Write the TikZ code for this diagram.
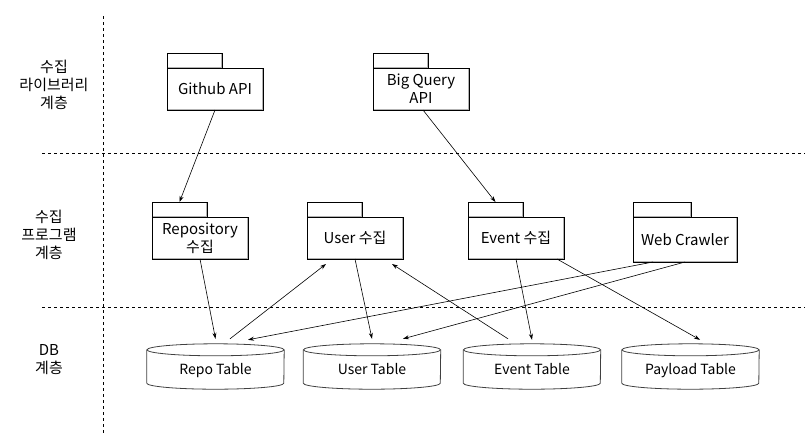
\documentclass[tikz,border=0pt]{standalone}
\usepackage{fontspec}
\setmainfont{Noto Sans CJK KR}
\usetikzlibrary{arrows.meta}
\usetikzlibrary{calc}

\tikzset{
  pkg/.style={draw, fill=white, line width=0.7pt, outer sep=0pt, inner sep=2pt,
    minimum width=96pt, minimum height=42pt, align=center,
    font=\fontsize{15}{18}\selectfont,
    path picture={\draw[black!30, line width=3pt]
      (path picture bounding box.south west) -- (path picture bounding box.south east)
      -- (path picture bounding box.north east);}},
  pkgtab/.style={pkg, minimum width=55pt, minimum height=15pt, inner sep=0pt, anchor=south west},
  tbl/.style={minimum width=137pt, minimum height=45pt, inner sep=0pt,
    font=\fontsize{14}{16}\selectfont},
  cyl/.style={draw=black!75, line width=0.8pt},
  layer/.style={align=center, font=\fontsize{15}{18}\selectfont},
  sep/.style={dashed, line width=0.7pt},
  link/.style={-{Stealth[length=6pt,width=4pt]}, line width=0.6pt},
}

\begin{document}
\begin{tikzpicture}[x=1pt,y=-1pt]
\useasboundingbox (0,0) rectangle (809,445);

% layer borders
\draw[sep] (103,16) -- (103,433);
\draw[sep] (42,153) -- (805,153);
\draw[sep] (42,307) -- (805,307);

\node[layer] (libs) at (54,85) {수집\\라이브러리\\계층};
\node[layer] (progs) at (49,235) {수집\\프로그램\\계층};
\node[layer] (dbs) at (49,360) {DB\\계층};

% packages
\foreach \name/\x/\y/\txt in {github/215/89/Github API, bigquery/421/89/{Big Query\\API},
    repository/200/238/{Repository\\수집}, user/355/238/User 수집, event/516/238/Event 수집} {
  \node[pkg] (\name) at (\x,\y) {\txt};
  \node[pkgtab] (\name-tab) at (\name.north west) {};
}
\node[pkg, minimum width=104pt, minimum height=45pt] (crawler) at (685,239.5) {Web Crawler};
\node[pkgtab, minimum width=58pt] (crawler-tab) at (crawler.north west) {};

% tables
\foreach \name/\x/\txt in {repo/215.5/Repo Table, usertbl/372/User Table,
    eventtbl/532/Event Table, payload/690.5/Payload Table} {
  \node[tbl] (\name) at (\x,366.5) {\raisebox{-7.5pt}[0pt][0pt]{\txt}};
  \draw[cyl] ($(\name.north)+(0,6)$) ellipse [x radius=68.5pt, y radius=6pt];
  \draw[cyl] ($(\name.north west)+(0,6)$) -- ($(\name.south west)+(0,-6)$)
    arc[start angle=180, end angle=360, x radius=68.5pt, y radius=6pt]
    -- ($(\name.north east)+(0,6)$);
}

\draw[link] (github.south) -- (repository-tab.north);
\draw[link] ([xshift=2pt]bigquery.south) -- (event-tab.north);
\draw[link] (repository.south) -- ([yshift=5pt]repo.north);
\draw[link] ([xshift=14.5pt,yshift=5pt]repo.north) -- ([xshift=-29pt,yshift=-5pt]user.south);
\draw[link] ([xshift=-32pt]crawler.south) -- ([xshift=32.5pt,yshift=4pt]repo.north);
\draw[link] (user.south) -- ([yshift=5pt]usertbl.north);
\draw[link] ([xshift=-24pt,yshift=5pt]eventtbl.north) -- ([xshift=37pt,yshift=-5pt]user.south);
\draw[link] (crawler.south) -- ([xshift=31pt,yshift=5pt]usertbl.north);
\draw[link] (event.south) -- ([yshift=4pt]eventtbl.north);
\draw[link] ([xshift=41pt]event.south) -- ([xshift=9.5pt,yshift=4pt]payload.north);
\end{tikzpicture}
\end{document}
